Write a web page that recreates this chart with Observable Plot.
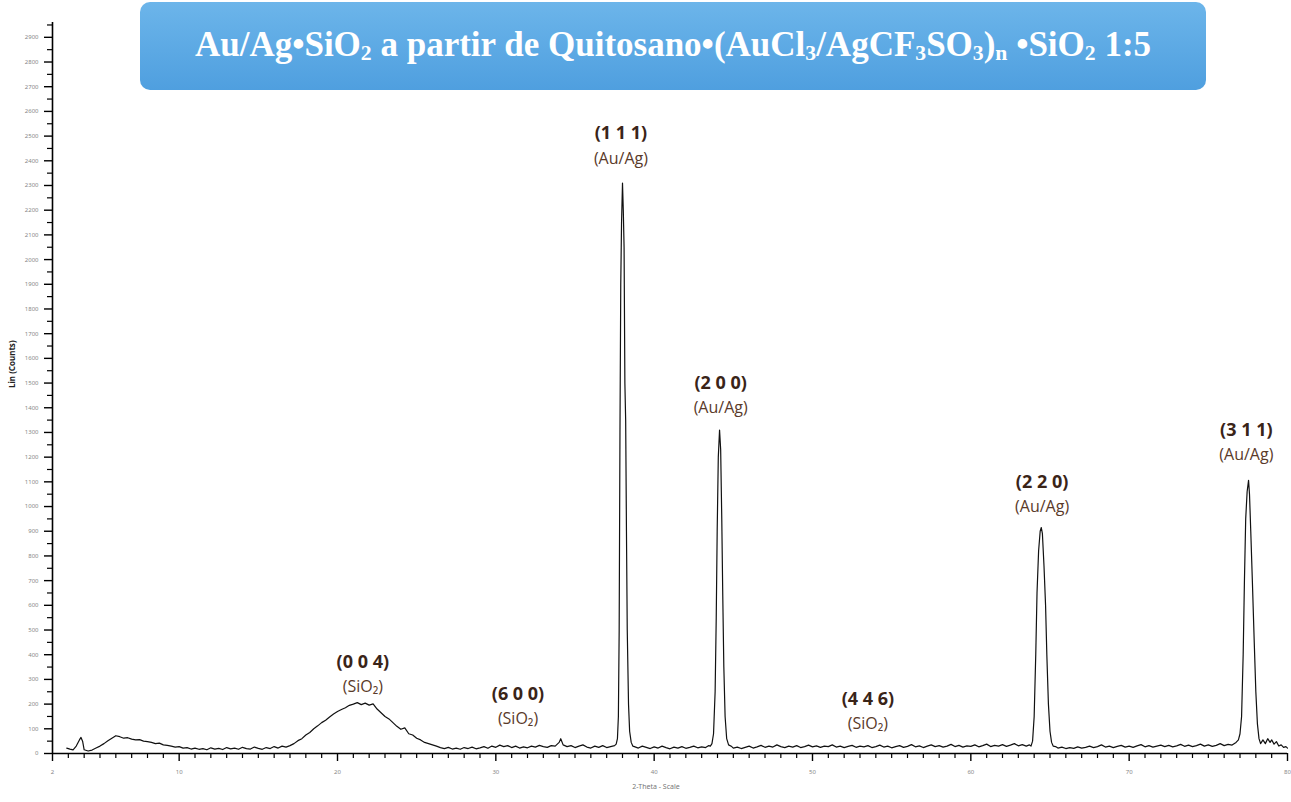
<!DOCTYPE html>
<html>
<head>
<meta charset="utf-8">
<script src="https://cdn.jsdelivr.net/npm/d3@7"></script>
<script src="https://cdn.jsdelivr.net/npm/@observablehq/plot@0.6"></script>
<style>
  html, body { margin: 0; padding: 0; background: #fff; }
  #wrap { position: relative; width: 1291px; height: 802px; }
  #title {
    position: absolute; left: 140px; top: 2px; width: 1066px; height: 88px;
    border-radius: 10px;
    background: linear-gradient(#6cb5ea, #4f9fdf);
    color: #fff; font-family: "Liberation Serif", "DejaVu Serif", serif; font-weight: bold;
    font-size: 35px; text-align: center; line-height: 86px; white-space: nowrap;
  }
  #title sub { font-size: 0.62em; vertical-align: -0.2em; line-height: 0; }
</style>
</head>
<body>
<div id="wrap">
  <div id="chart"></div>
  <div id="title">Au/Ag•SiO<sub>2</sub> a partir de Quitosano•(AuCl<sub>3</sub>/AgCF<sub>3</sub>SO<sub>3</sub>)<sub>n</sub> •SiO<sub>2</sub> 1:5</div>
</div>
<script>
// ---- Data: [2-theta (deg), Lin (Counts)] ----
const scanLowAngle = [[2.9,22],[3.1,18],[3.3,15],[3.5,30],[3.7,55],[3.8,65],[3.9,50],[4.0,15],[4.25,10],[4.5,14],[4.75,22],[5.0,30],[5.25,40],[5.5,52],[5.75,62],[6.0,72],[6.25,68],[6.5,62],[6.75,64],[7.0,58],[7.25,55],[7.5,56],[7.75,50],[8.0,48],[8.25,45],[8.5,40],[8.75,42],[9.0,35],[9.25,33],[9.5,30],[9.75,26],[10.0,28],[10.25,22],[10.5,24],[10.75,18],[11.0,22],[11.25,17],[11.5,20],[11.75,15],[12.0,23],[12.25,18],[12.5,21],[12.75,16],[13.0,24],[13.25,19],[13.5,22],[13.75,17],[14.0,25],[14.25,20],[14.5,18],[14.75,26],[15.0,21],[15.25,17],[15.5,24],[15.75,20],[16.0,28],[16.25,22],[16.5,30],[16.75,26]];
const scanHump004 = [[17.0,32],[17.25,40],[17.5,52],[17.75,60],[18.0,75],[18.25,85],[18.5,100],[18.75,112],[19.0,125],[19.25,135],[19.5,148],[19.75,160],[20.0,170],[20.25,178],[20.5,185],[20.75,195],[21.0,200],[21.25,206],[21.5,198],[21.75,204],[22.0,196],[22.25,201],[22.5,180],[22.75,165],[23.0,150],[23.25,140],[23.5,125],[23.75,110],[24.0,98],[24.25,104],[24.5,80],[24.75,75],[25.0,62],[25.25,55],[25.5,45],[25.75,40],[26.0,35],[26.25,30],[26.5,24]];
const scanMid = [[26.75,20],[27.0,25],[27.25,18],[27.5,22],[27.75,17],[28.0,24],[28.25,20],[28.5,26],[28.75,19],[29.0,23],[29.25,28],[29.5,21],[29.75,30],[30.0,25],[30.25,34],[30.5,28],[30.75,32],[31.0,24],[31.25,30],[31.5,22],[31.75,27],[32.0,23],[32.25,30],[32.5,26],[32.75,33],[33.0,28],[33.25,25],[33.5,32],[33.75,30],[34.0,45],[34.1,60],[34.25,35],[34.5,28],[34.75,32],[35.0,24],[35.25,30],[35.5,35],[35.75,26],[36.0,22],[36.25,30],[36.5,25],[36.75,32],[37.0,24],[37.25,28],[37.5,32]];
const peak111 = [[37.6,38],[37.68,60],[37.74,150],[37.79,500],[37.84,1300],[37.89,1900],[37.94,2150],[38.0,2310],[38.05,2200],[38.1,2050],[38.15,1500],[38.2,1350],[38.25,900],[38.3,500],[38.38,200],[38.45,90],[38.55,45],[38.65,30]];
const scanAfter111 = [[38.75,28],[39.0,22],[39.25,30],[39.5,25],[39.75,20],[40.0,27],[40.25,22],[40.5,30],[40.75,24],[41.0,19],[41.25,26],[41.5,22],[41.75,28],[42.0,21],[42.25,25],[42.5,30],[42.75,23],[43.0,27],[43.25,24],[43.45,32]];
const peak200 = [[43.55,30],[43.65,40],[43.75,80],[43.85,250],[43.92,550],[43.98,900],[44.05,1200],[44.13,1310],[44.2,1230],[44.27,950],[44.33,650],[44.4,350],[44.48,150],[44.58,60],[44.7,35]];
const scanAfter200 = [[44.9,28],[45.0,22],[45.25,26],[45.5,20],[45.75,25],[46.0,30],[46.25,22],[46.5,27],[46.75,33],[47.0,25],[47.25,30],[47.5,26],[47.75,35],[48.0,28],[48.25,24],[48.5,30],[48.75,26],[49.0,32],[49.25,24],[49.5,28],[49.75,34],[50.0,27],[50.25,31],[50.5,25],[50.75,30],[51.0,28],[51.25,35],[51.5,26],[51.75,30],[52.0,24],[52.25,29],[52.5,33],[52.75,25],[53.0,30],[53.25,27],[53.5,32],[53.75,24],[54.0,28],[54.25,34],[54.5,26],[54.75,30],[55.0,23],[55.25,28],[55.5,32],[55.75,25],[56.0,29],[56.25,36],[56.5,27],[56.75,31],[57.0,24],[57.25,30],[57.5,35],[57.75,28],[58.0,32],[58.25,26],[58.5,30],[58.75,37],[59.0,28],[59.25,33],[59.5,26],[59.75,31],[60.0,29],[60.25,35],[60.5,27],[60.75,32],[61.0,38],[61.25,28],[61.5,33],[61.75,30],[62.0,36],[62.25,29],[62.5,34],[62.75,40],[63.0,31],[63.25,36],[63.5,30],[63.7,35]];
const peak220 = [[63.8,30],[63.9,50],[64.0,150],[64.1,400],[64.18,650],[64.28,820],[64.38,900],[64.45,915],[64.52,890],[64.62,760],[64.72,600],[64.8,400],[64.9,200],[65.0,90],[65.1,45],[65.2,30]];
const scanAfter220 = [[65.35,28],[65.5,22],[65.75,26],[66.0,20],[66.25,24],[66.5,21],[66.75,27],[67.0,22],[67.25,25],[67.5,30],[67.75,24],[68.0,28],[68.25,35],[68.5,26],[68.75,30],[69.0,24],[69.25,29],[69.5,33],[69.75,26],[70.0,30],[70.25,25],[70.5,31],[70.75,36],[71.0,27],[71.25,32],[71.5,26],[71.75,30],[72.0,34],[72.25,28],[72.5,33],[72.75,27],[73.0,31],[73.25,37],[73.5,29],[73.75,34],[74.0,28],[74.25,32],[74.5,38],[74.75,30],[75.0,35],[75.25,29],[75.5,33],[75.75,40],[76.0,32],[76.25,37],[76.5,34],[76.75,45]];
const peak311 = [[76.9,55],[77.0,80],[77.1,150],[77.2,400],[77.28,700],[77.36,950],[77.45,1060],[77.54,1106],[77.6,1050],[77.68,900],[77.78,700],[77.9,450],[78.0,250],[78.1,120],[78.2,60],[78.3,40]];
const scanHighAngle = [[78.45,55],[78.6,40],[78.75,60],[78.9,45],[79.0,55],[79.15,38],[79.3,48],[79.45,30],[79.6,35],[79.75,25],[79.9,28],[80.0,22]];

// Reflection labels (anchor in 2-theta / counts)
const hklLabels   = ["(0 0 4)", "(6 0 0)", "(1 1 1)", "(2 0 0)", "(4 4 6)", "(2 2 0)", "(3 1 1)"];
const phaseLabels = ["(SiO₂)", "(SiO₂)", "(Au/Ag)", "(Au/Ag)", "(SiO₂)", "(Au/Ag)", "(Au/Ag)"];
const labelTheta  = [21.6, 31.4, 37.9, 44.2, 53.5, 64.5, 77.4];
const labelCounts = [370, 240, 2510, 1500, 220, 1100, 1310];

// Axis ticks
const xTicks = [2, 10, 20, 30, 40, 50, 60, 70, 80];
const yTicks = [0,100,200,300,400,500,600,700,800,900,1000,1100,1200,1300,1400,1500,1600,1700,1800,1900,2000,2100,2200,2300,2400,2500,2600,2700,2800,2900];

const scan = [].concat(scanLowAngle, scanHump004, scanMid, peak111, scanAfter111, peak200,
  scanAfter200, peak220, scanAfter220, peak311, scanHighAngle).map(([t, c]) => ({t, c}));
const labels = hklLabels.map((h, i) => ({h, p: phaseLabels[i], t: labelTheta[i], c: labelCounts[i]}));
const xMinor = d3.range(3, 80).filter(d => d % 10 !== 0);
const yMinor = yTicks.map(d => d + 50);

const chart = Plot.plot({
  width: 1291, height: 802,
  marginLeft: 52, marginRight: 4, marginTop: 22, marginBottom: 49,
  style: {background: "#fff", overflow: "visible"},
  x: {domain: [2, 80]},
  y: {domain: [0, 2960]},
  marks: [
    Plot.axisX({ticks: xMinor, tickSize: 5, text: null, label: null, stroke: "#000", strokeWidth: 1.2}),
    Plot.axisX({ticks: xTicks, tickSize: 8, tickPadding: 8, tickFormat: d => String(d), fontSize: 6, fill: "#888", stroke: "#000", strokeWidth: 1.4, label: null}),
    Plot.axisY({ticks: yMinor, tickSize: 5, text: null, label: null, stroke: "#000", strokeWidth: 1.2}),
    Plot.axisY({ticks: yTicks, tickSize: 8, tickPadding: 6, tickFormat: d => String(d), fontSize: 6, fill: "#888", stroke: "#000", strokeWidth: 1.4, label: null}),
    Plot.ruleY([0], {stroke: "#000", strokeWidth: 1.6}),
    Plot.ruleX([2], {stroke: "#000", strokeWidth: 1.6}),
    Plot.line(scan, {x: "t", y: "c", stroke: "#111", strokeWidth: 1.2}),
    Plot.text(labels, {x: "t", y: "c", text: "h", fontSize: 18, fontWeight: "bold", fill: "#3a2418", fontFamily: "Open Sans", lineAnchor: "middle"}),
    Plot.text(labels, {x: "t", y: "c", text: "p", dy: 25, fontSize: 16, fill: "#5a3a2a", fontFamily: "Open Sans", lineAnchor: "middle"}),
    Plot.text(["Lin (Counts)"], {frameAnchor: "left", dx: -40, rotate: -90, fontSize: 8, fontWeight: "bold", fill: "#222"}),
    Plot.text(["2-Theta - Scale"], {frameAnchor: "bottom", dx: -14, dy: 35, fontSize: 7, fill: "#777"})
  ]
});
document.getElementById("chart").appendChild(chart);
</script>
</body>
</html>
